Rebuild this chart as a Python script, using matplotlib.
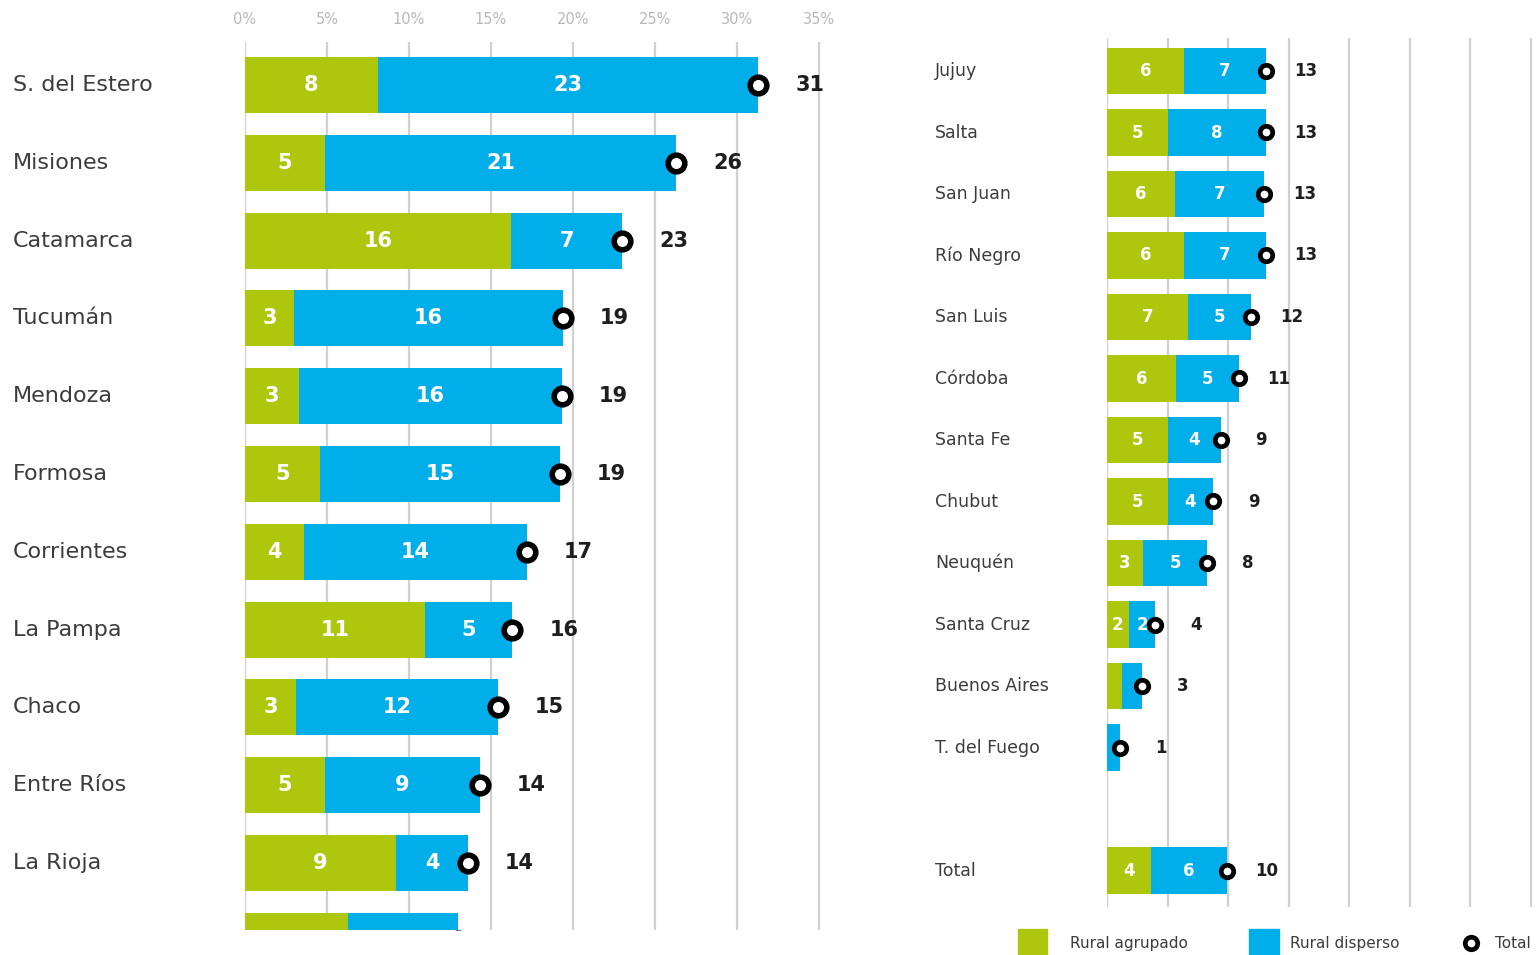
import matplotlib.pyplot as plt
from matplotlib import transforms
from matplotlib.patches import Rectangle
from matplotlib.lines import Line2D

plt.rcParams['font.family'] = ['DejaVu Sans']

GREEN = '#AEC60C'
BLUE = '#00AEE9'
GRID = '#D0D0D0'
TEXT = '#3c3c3c'

# left panel (the last row is cut off by the crop)
left_names = ['S. del Estero', 'Misiones', 'Catamarca', 'Tucumán', 'Mendoza', 'Formosa',
              'Corrientes', 'La Pampa', 'Chaco', 'Entre Ríos', 'La Rioja', 'Jujuy']
left_grouped = [8.1, 4.9, 16.2, 3.0, 3.3, 4.6, 3.6, 11.0, 3.1, 4.9, 9.2, 6.3]
left_dispersed = [23.2, 21.4, 6.8, 16.4, 16.0, 14.6, 13.6, 5.3, 12.3, 9.4, 4.4, 6.7]

# right panel
right_names = ['Jujuy', 'Salta', 'San Juan', 'Río Negro', 'San Luis', 'Córdoba', 'Santa Fe',
               'Chubut', 'Neuquén', 'Santa Cruz', 'Buenos Aires', 'T. del Fuego', 'Total']
right_grouped = [6.4, 5.0, 5.6, 6.4, 6.7, 5.7, 5.0, 5.0, 3.0, 1.8, 1.2, 0.0, 3.6]
right_dispersed = [6.7, 8.1, 7.4, 6.7, 5.2, 5.2, 4.4, 3.8, 5.3, 2.2, 1.7, 1.1, 6.3]

pct_ticks = [0, 5, 10, 15, 20, 25, 30, 35]

W, H = 1539, 955
fig = plt.figure(figsize=(W / 100, H / 100), dpi=100)


def draw_panel(ax, names, grouped, dispersed, rows, bar_h, inner_fs, total_fs,
               name_x, name_fs, offset, ms, mew, clip_names=None):
    totals = [g + d for g, d in zip(grouped, dispersed)]
    ax.barh(rows, grouped, height=bar_h, color=GREEN, zorder=2)
    ax.barh(rows, dispersed, left=grouped, height=bar_h, color=BLUE, zorder=2)
    ax.plot(totals, rows, 'o', ms=ms, mfc='white', mec='black', mew=mew, zorder=4)
    for r, g, d, t in zip(rows, grouped, dispersed, totals):
        if g >= 1.75:
            ax.text(g / 2, r, f'{g:.0f}', ha='center', va='center', color='white',
                    fontsize=inner_fs, fontweight='bold', zorder=3, clip_on=True)
        if d >= 1.75:
            ax.text(g + d / 2, r, f'{d:.0f}', ha='center', va='center', color='white',
                    fontsize=inner_fs, fontweight='bold', zorder=3, clip_on=True)
        ax.annotate(f'{t:.0f}', (t, r), xytext=(offset, 0), textcoords='offset points',
                    ha='center', va='center', fontsize=total_fs, fontweight='bold',
                    color='#1e1e1e')
    tr = transforms.blended_transform_factory(fig.transFigure, ax.transData)
    for r, n in zip(rows, names):
        t = ax.text(name_x / W, r, n, transform=tr, ha='left', va='center',
                    fontsize=name_fs, color=TEXT)
        if clip_names is not None:
            t.set_clip_box(clip_names)
            t.set_clip_on(True)
    ax.set_xticks(pct_ticks)
    ax.grid(axis='x', color=GRID, lw=1.6)
    ax.set_axisbelow(True)
    ax.set_yticks([])
    for s in ax.spines.values():
        s.set_visible(False)


# left axes: 0% at x=245px, 16.4 px per point, rows every 77.8 px from y=85
top_l, bot_l = 42, 930
axl = fig.add_axes([245 / W, (H - bot_l) / H, 36.5 * 16.4 / W, (bot_l - top_l) / H])
rows_l = list(range(len(left_names)))
axl.set_ylim((bot_l - 85) / 77.8, (top_l - 85) / 77.8)
axl.set_xlim(0, 36.5)
clip = transforms.TransformedBbox(transforms.Bbox([[0, (H - bot_l) / H], [0.16, 1]]),
                                  fig.transFigure)
draw_panel(axl, left_names, left_grouped, left_dispersed, rows_l, 0.72, 15, 15,
           13, 16, 37, 12, 4, clip_names=clip)
axl.xaxis.tick_top()
axl.tick_params(axis='x', length=0, pad=11, labelsize=10.5, labelcolor='#b8b8b8')
axl.set_xticklabels([f'{t}%' for t in pct_ticks])

# right axes: 0% at x=1107px, 12.1 px per point, rows every 61.5 px from y=71
top_r, bot_r = 38, 907
axr = fig.add_axes([1107 / W, (H - bot_r) / H, 35.6 * 12.1 / W, (bot_r - top_r) / H])
rows_r = list(range(len(right_names) - 1)) + [len(right_names)]
axr.set_ylim((bot_r - 71) / 61.5, (top_r - 71) / 61.5)
axr.set_xlim(0, 35.6)
draw_panel(axr, right_names, right_grouped, right_dispersed, rows_r, 0.75, 12, 12,
           935, 12.5, 29, 9, 3.4)
axr.tick_params(axis='x', length=0, labeltop=False, labelbottom=False)

# legend
ly = (H - 943) / H
fig.patches.append(Rectangle((1018 / W, -0.01), 29 / W, (H - 929) / H + 0.01,
                             transform=fig.transFigure, color=GREEN))
fig.text(1070 / W, ly, 'Rural agrupado', ha='left', va='center', fontsize=11, color=TEXT)
fig.patches.append(Rectangle((1249 / W, -0.01), 30 / W, (H - 929) / H + 0.01,
                             transform=fig.transFigure, color=BLUE))
fig.text(1290 / W, ly, 'Rural disperso', ha='left', va='center', fontsize=11, color=TEXT)
fig.lines.append(Line2D([1471 / W], [ly], transform=fig.transFigure, marker='o', ms=9,
                        mfc='white', mec='black', mew=3.4))
fig.text(1495 / W, ly, 'Total', ha='left', va='center', fontsize=11, color=TEXT)

fig.savefig('out.png', dpi=100, facecolor='white')
